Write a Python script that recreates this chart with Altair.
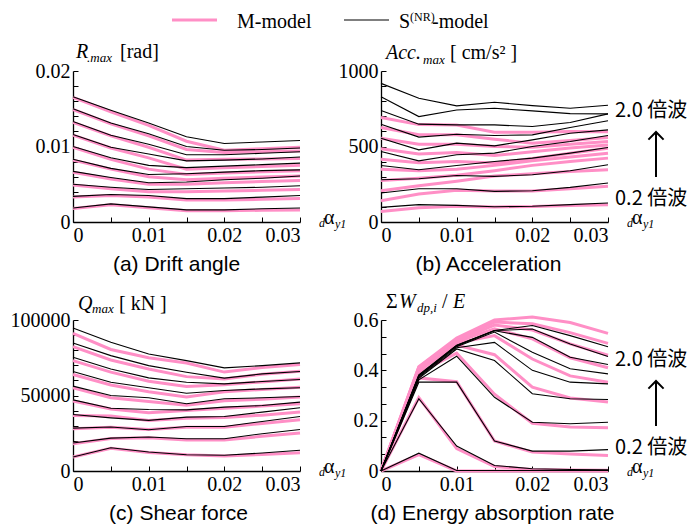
import altair as alt
import pandas as pd

# ---------------- data ----------------
X_VALUES = [0, 0.005, 0.01, 0.015, 0.02, 0.025, 0.03]

# (a) drift angle [rad]  (rows: 0.2x ... 2.0x)
drift_m = [
    [0.0018, 0.0023, 0.0019, 0.0015, 0.0015, 0.00155, 0.0016],
    [0.0033, 0.0035, 0.0033, 0.0029, 0.0029, 0.0030, 0.0031],
    [0.0049, 0.0044, 0.0040, 0.0040, 0.0041, 0.0042, 0.0043],
    [0.0066, 0.0057, 0.0050, 0.0050, 0.0052, 0.00535, 0.0055],
    [0.0082, 0.0070, 0.0060, 0.0056, 0.0058, 0.00595, 0.0061],
    [0.0099, 0.0083, 0.0070, 0.0063, 0.0065, 0.00665, 0.0068],
    [0.0115, 0.0098, 0.0085, 0.0070, 0.0072, 0.00735, 0.0075],
    [0.0132, 0.0114, 0.0099, 0.0082, 0.0083, 0.00835, 0.0084],
    [0.0149, 0.0130, 0.0114, 0.0096, 0.0092, 0.0093, 0.0094],
    [0.0165, 0.0146, 0.0128, 0.0107, 0.0095, 0.0097, 0.0099],
]
drift_s = [
    [0.00185, 0.0024, 0.0020, 0.0016, 0.0016, 0.00175, 0.00185],
    [0.0034, 0.00365, 0.0035, 0.0031, 0.0031, 0.0033, 0.0035],
    [0.0050, 0.0046, 0.0043, 0.0044, 0.0045, 0.0046, 0.0048],
    [0.0067, 0.0059, 0.0052, 0.0053, 0.0056, 0.0058, 0.0061],
    [0.0083, 0.0071, 0.0063, 0.0064, 0.0066, 0.0068, 0.0069],
    [0.0100, 0.0085, 0.0075, 0.0072, 0.0074, 0.0076, 0.0078],
    [0.0116, 0.0099, 0.0090, 0.0081, 0.0082, 0.00835, 0.0086],
    [0.0133, 0.0115, 0.0103, 0.0089, 0.0089, 0.0091, 0.0093],
    [0.0150, 0.0131, 0.0117, 0.0100, 0.0095, 0.0096, 0.0098],
    [0.0166, 0.0148, 0.0131, 0.0113, 0.0104, 0.0106, 0.0108],
]

# (b) acceleration [cm/s2]
acc_m = [
    [70, 95, 105, 100, 102, 110, 115],
    [141, 185, 210, 205, 205, 220, 236],
    [207, 240, 270, 305, 320, 335, 346],
    [275, 290, 310, 340, 375, 400, 423],
    [350, 340, 350, 375, 405, 430, 455],
    [416, 392, 400, 390, 420, 455, 489],
    [485, 450, 460, 440, 465, 490, 510],
    [555, 515, 515, 500, 495, 515, 533],
    [626, 578, 578, 548, 522, 540, 560],
    [692, 645, 642, 595, 595, 600, 598],
]
acc_s = [
    [97, 115, 110, 101, 104, 115, 126],
    [192, 220, 220, 203, 207, 229, 258],
    [280, 286, 308, 302, 313, 339, 379],
    [374, 346, 374, 401, 423, 456, 493],
    [467, 405, 445, 456, 500, 533, 573],
    [555, 478, 522, 504, 544, 588, 610],
    [648, 562, 581, 573, 577, 626, 670],
    [738, 648, 643, 643, 632, 659, 716],
    [830, 698, 742, 753, 736, 718, 716],
    [918, 819, 769, 793, 771, 753, 773],
]

# (c) shear force [kN]
shear_m = [
    [9300, 15000, 12300, 10700, 10000, 11000, 12100],
    [18100, 21500, 22000, 20500, 20500, 23000, 25100],
    [28000, 29000, 27500, 29000, 29000, 31500, 33900],
    [36800, 36500, 33500, 35000, 35500, 37000, 39000],
    [46300, 41000, 38500, 40000, 41500, 43000, 44500],
    [55100, 48500, 46000, 43500, 46500, 47500, 49000],
    [63900, 57000, 52500, 49000, 52500, 54000, 55500],
    [73100, 65500, 59500, 56000, 57200, 59000, 61000],
    [82400, 73500, 67500, 62500, 61000, 64000, 66000],
    [91200, 80500, 75000, 71500, 65500, 68500, 70500],
]
shear_s = [
    [9300, 15400, 12600, 10800, 10400, 11900, 13700],
    [18500, 21800, 22500, 21400, 21400, 24700, 27500],
    [28400, 29100, 27300, 29500, 29500, 32800, 36100],
    [37400, 35200, 33500, 35700, 36100, 39000, 41900],
    [47100, 41600, 40700, 40500, 42300, 43400, 45600],
    [56200, 50000, 48500, 44500, 47800, 48500, 49300],
    [65900, 58800, 55100, 51500, 53300, 54400, 55100],
    [75300, 67600, 61700, 58800, 57700, 59300, 60600],
    [84800, 76400, 69800, 65400, 61500, 64300, 65900],
    [94700, 85200, 77500, 73100, 68300, 69800, 71600],
]

# (d) energy absorption rate
energy_m = [
    [0, 0.065, 0.0, 0.0, 0.0, 0.0, 0.0],
    [0, 0.292, 0.089, 0.018, 0.006, 0.004, 0.003],
    [0, 0.370, 0.355, 0.119, 0.075, 0.068, 0.062],
    [0, 0.390, 0.468, 0.305, 0.190, 0.175, 0.172],
    [0, 0.398, 0.500, 0.462, 0.333, 0.290, 0.274],
    [0, 0.403, 0.508, 0.538, 0.445, 0.378, 0.353],
    [0, 0.406, 0.513, 0.565, 0.525, 0.450, 0.410],
    [0, 0.409, 0.518, 0.580, 0.560, 0.505, 0.460],
    [0, 0.412, 0.523, 0.592, 0.585, 0.550, 0.507],
    [0, 0.415, 0.528, 0.600, 0.612, 0.590, 0.547],
]
energy_s = [
    [0, 0.071, 0.002, 0.002, 0.002, 0.002, 0.002],
    [0, 0.287, 0.099, 0.022, 0.009, 0.006, 0.005],
    [0, 0.353, 0.353, 0.119, 0.079, 0.079, 0.085],
    [0, 0.362, 0.456, 0.293, 0.194, 0.188, 0.194],
    [0, 0.368, 0.485, 0.439, 0.307, 0.287, 0.284],
    [0, 0.372, 0.490, 0.511, 0.400, 0.353, 0.346],
    [0, 0.376, 0.494, 0.552, 0.472, 0.406, 0.386],
    [0, 0.378, 0.497, 0.557, 0.531, 0.452, 0.423],
    [0, 0.380, 0.499, 0.558, 0.564, 0.505, 0.455],
    [0, 0.382, 0.500, 0.558, 0.578, 0.538, 0.494],
]

# ---------------- styling ----------------
W, H = 227, 151
SERIF = "Liberation Serif"
SANS = "Liberation Sans"
CJK = "Noto Sans CJK JP"
PINK = "#ff8fc6"
ONE = pd.DataFrame({"k": [0]})


def long_df(m_rows, s_rows):
    recs = []
    for model, rows in (("M", m_rows), ("S", s_rows)):
        for i, row in enumerate(rows):
            for x, v in zip(X_VALUES, row):
                recs.append({"x": x, "v": v, "model": model, "series": f"{model}{i}"})
    return pd.DataFrame(recs)


def txt(s, x, y, size=20, style="normal", font=SERIF, align="left"):
    return alt.Chart(ONE).mark_text(
        text=s, font=font, fontSize=size, fontStyle=style, align=align,
        baseline="alphabetic", color="black"
    ).encode(x=alt.value(x), y=alt.value(y))


def hrule(x1, x2, y, color, width):
    return alt.Chart(ONE).mark_rule(color=color, strokeWidth=width).encode(
        x=alt.value(x1), x2=alt.value(x2), y=alt.value(y))


def annot_layers():
    return [
        txt("2.0 倍波", 234, 46, size=20, font=CJK),
        txt("0.2 倍波", 234, 134, size=20, font=CJK),
        alt.Chart(ONE).mark_rule(color="black", strokeWidth=2).encode(
            x=alt.value(275), y=alt.value(62), y2=alt.value(106)),
        alt.Chart(ONE).mark_point(shape="M-1,1L0,0L1,1", filled=False, size=230,
                                  strokeWidth=2, color="black", opacity=1).encode(
            x=alt.value(275), y=alt.value(61)),
    ]


def xtitle_layers():
    return [
        txt("d", W + 19, H + 5, size=12, style="italic"),
        txt("α", W + 24, H + 2, size=20),
        txt("y1", W + 35, H + 6, size=12, style="italic"),
    ]


def panel(m_rows, s_rows, ymax, nticks, ylab_vals, yfmt, extra, subtitle, sub_dx):
    df = long_df(m_rows, s_rows)
    ytick_vals = [round(ymax * i / nticks, 10) for i in range(nticks + 1)]
    xsc = alt.Scale(domain=[0, 0.03], nice=False, zero=False)
    ysc = alt.Scale(domain=[0, ymax], nice=False, zero=True)

    pink = alt.Chart(df).transform_filter(alt.datum.model == "M").mark_line(
        color=PINK, strokeWidth=3
    ).encode(
        x=alt.X("x:Q", scale=xsc, axis=alt.Axis(
            values=[0, 0.01, 0.02, 0.03], format="~g", ticks=False, title=None,
            labelPadding=3, grid=False, domainWidth=1.3)),
        y=alt.Y("v:Q", scale=ysc, axis=alt.Axis(
            values=ylab_vals, format=yfmt, ticks=False, title=None,
            labelPadding=3, grid=False, domainWidth=1.3)),
        detail="series:N",
    )
    black = alt.Chart(df).transform_filter(alt.datum.model == "S").mark_line(
        color="black", strokeWidth=1.1
    ).encode(
        x=alt.X("x:Q", scale=xsc, axis=alt.Axis(
            orient="top", offset=-H, values=X_VALUES, labels=False, domain=False,
            ticks=True, tickSize=5, title=None, grid=False)),
        y=alt.Y("v:Q", scale=ysc, axis=alt.Axis(
            orient="right", offset=-W, values=ytick_vals, labels=False, domain=False,
            ticks=True, tickSize=5, title=None, grid=False)),
        detail="series:N",
    )
    sub = txt(subtitle, W / 2 + sub_dx, H + 49, size=21, font=SANS, align="center")
    layers = [pink, black] + extra + xtitle_layers() + [sub]
    return alt.layer(*layers).resolve_scale(x="independent", y="independent").properties(
        width=W, height=H)


legend = [
    hrule(99, 144, -51, PINK, 3),
    txt("M-model", 164, -43, size=20),
    hrule(271, 316, -51, "black", 1.2),
    txt("S", 326, -43, size=20),
    txt("(NR)", 337, -50, size=12),
    txt("-model", 359, -43, size=20),
]

title_a = [
    txt("R", 3, -13, size=20, style="italic"),
    txt(".max", 14, -9, size=13, style="italic"),
    txt("[rad]", 47, -13, size=20),
]
title_b = [
    txt("Acc.", 5, -12, size=20, style="italic"),
    txt("max", 42, -7, size=13, style="italic"),
    txt("[ cm/s² ]", 69, -12, size=20),
]
title_c = [
    txt("Q", 5, -10, size=20, style="italic"),
    txt("max", 19, -7, size=13, style="italic"),
    txt("[ kN ]", 46, -10, size=20),
]
title_d = [
    txt("Σ", 5, -12, size=20),
    txt("W", 18, -12, size=20, style="italic"),
    txt("dp,i", 36, -8, size=13, style="italic"),
    txt("/", 61, -12, size=20),
    txt("E", 72, -12, size=20, style="italic"),
]

pa = panel(drift_m, drift_s, 0.02, 10, [0, 0.01, 0.02], "~g",
           legend + title_a, "(a) Drift angle", -10)
pb = panel(acc_m, acc_s, 1000, 10, [0, 500, 1000], "d",
           title_b + annot_layers(), "(b) Acceleration", -6)
pc = panel(shear_m, shear_s, 100000, 10, [0, 50000, 100000], "d",
           title_c, "(c) Shear force", -8)
pd_ = panel(energy_m, energy_s, 0.6, 9, [0, 0.2, 0.4, 0.6], "~g",
            title_d + annot_layers(), "(d) Energy absorption rate", -2)

chart = alt.concat(
    pa, pb, pc, pd_, columns=2, bounds="flush",
    spacing={"row": 98, "column": 81},
).properties(
    padding={"left": 2, "top": 3, "right": 0, "bottom": 0}
).configure_view(stroke=None).configure_axis(
    labelFont=SERIF, labelFontSize=20, labelColor="black",
    domainColor="black", tickColor="black", tickWidth=1,
)

chart.save("out.html", embed_options={"renderer": "svg", "actions": False})
